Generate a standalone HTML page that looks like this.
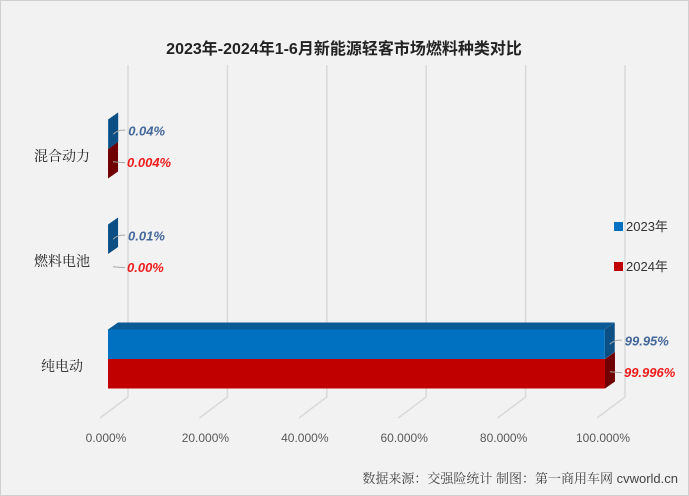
<!DOCTYPE html>
<html><head><meta charset="utf-8"><style>
body{margin:0;background:#fff}
svg{display:block;font-family:"Liberation Sans","Noto Sans CJK SC",sans-serif}
</style></head><body>
<svg width="689" height="496">
<rect x="0.5" y="0.5" width="688" height="495" fill="#f2f2f2" stroke="#d0d0d0"/>
<text x="344" y="54" text-anchor="middle" font-size="16" font-weight="bold" fill="#222">2023年-2024年1-6月新能源轻客市场燃料种类对比</text>
<g id="grid"></g>
<g id="bars"></g>
<g id="labels"></g>
<g>
<rect x="614" y="222" width="9" height="9" fill="#0070c0"/>
<text x="626" y="231" font-size="13" fill="#333">2023年</text>
<rect x="614" y="262" width="9" height="9" fill="#c00000"/>
<text x="626" y="271" font-size="13" fill="#333">2024年</text>
</g>
<text x="678" y="483" text-anchor="end" font-size="13" fill="#444" style="font-family:'Liberation Sans','Noto Serif CJK SC',serif">数据来源：交强险统计 制图：第一商用车网 cvworld.cn</text>
</svg>
<script>
const categories=["混合动力","燃料电池","纯电动"];
const series2023=[0.04,0.01,99.95];
const series2024=[0.004,0.00,99.996];
const labels2023=["0.04%","0.01%","99.95%"];
const labels2024=["0.004%","0.00%","99.996%"];
const ticks=[0,20,40,60,80,100];
const tickLabels=["0.000%","20.000%","40.000%","60.000%","80.000%","100.000%"];

const NS="http://www.w3.org/2000/svg";
const x0=108,x1=605,dx=10,dy=-7;
const xs=v=>x0+(x1-x0)*v/100;
const cy=i=>149+i*105;
const bh=29.5;
function mk(tag,attrs,parent){const e=document.createElementNS(NS,tag);for(const k in attrs)e.setAttribute(k,attrs[k]);parent.appendChild(e);return e;}
const grid=document.getElementById('grid'),bars=document.getElementById('bars'),lab=document.getElementById('labels');
ticks.forEach((t,i)=>{
  const bx=xs(t)+20,fx=xs(t)-8;
  const l=mk('path',{d:`M${bx},65 L${bx},397 L${fx},418`,stroke:'#d9d9d9','stroke-width':1.5,fill:'none'},grid);
  
  
  const tx=mk('text',{x:xs(t)-2,y:442,'text-anchor':'middle','font-size':12,fill:'#595959'},grid);
  tx.textContent=tickLabels[i];
  
  
});
function bar(i,v,top,front,topc,side,name,showTop){
  const g=mk('g',{},bars);
  
  
  const xe=xs(v),y1=top,y2=top+bh;
  if(showTop) mk('polygon',{points:`${x0},${y1} ${x0+dx},${y1+dy} ${xe+dx},${y1+dy} ${xe},${y1}`,fill:topc},g);
  mk('polygon',{points:`${xe},${y1} ${xe+dx},${y1+dy} ${xe+dx},${y2+dy} ${xe},${y2}`,fill:side},g);
  mk('rect',{x:x0,y:y1,width:Math.max(0,xe-x0),height:bh,fill:front},g);
}
categories.forEach((c,i)=>{
  const y=cy(i);
  if(series2024[i]>0) bar(i,series2024[i],y,'#c00000','#a00000','#700000','bar-2024-'+i,false);
  if(series2023[i]>0) bar(i,series2023[i],y-bh,'#0070c0','#0b5a96','#0b4f85','bar-2023-'+i,true);
  const t=mk('text',{x:62,y:y+12,'text-anchor':'middle','font-size':14,fill:'#222',style:"font-family:'Noto Serif CJK SC',serif"},lab);
  t.textContent=c;
  
  
  const ex1=xs(series2023[i])+dx/2, ex2=xs(series2024[i])+dx/2;
  const y23=y-bh/2-3,y24=y+bh/2-2;
  mk('path',{d:`M${ex1},${y23+3} Q${ex1+5},${y23-2} ${ex1+12},${y23-1}`,stroke:'#a6a6a6',fill:'none'},lab);
  mk('path',{d:`M${ex2},${y24} L${ex2+12},${y24+1}`,stroke:'#a6a6a6',fill:'none'},lab);
  const a=mk('text',{x:ex1+15,y:y23+4,'font-size':13,'font-weight':'bold','font-style':'italic',fill:'#44679a'},lab);
  a.textContent=labels2023[i];
  
  
  const b=mk('text',{x:ex2+14,y:y24+5,'font-size':13,'font-weight':'bold','font-style':'italic',fill:'#ee1c1c'},lab);
  b.textContent=labels2024[i];
  
  
});
</script>
</body></html>
